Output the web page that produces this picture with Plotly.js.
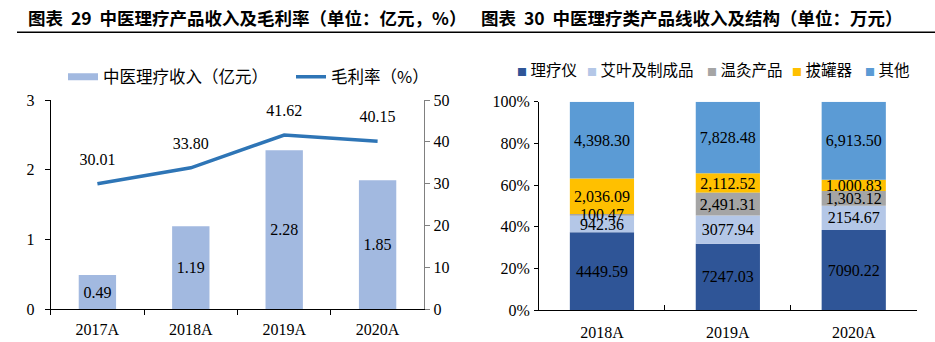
<!DOCTYPE html>
<html><head><meta charset="utf-8">
<script src="https://cdn.plot.ly/plotly-3.0.1.min.js"></script>
<style>html,body{margin:0;padding:0;background:#fff;} #chart{width:935px;height:342px;}</style>
</head><body><div id="chart"></div>
<script>
// ---- data ----
const years1 = ['2017A', '2018A', '2019A', '2020A'];
const revenue = [0.49, 1.19, 2.28, 1.85];          // 中医理疗收入（亿元）
const grossMargin = [30.01, 33.80, 41.62, 40.15];  // 毛利率（%）

const years2 = ['2018A', '2019A', '2020A'];
const device = [4449.59, 7247.03, 7090.22];        // 理疗仪
const moxa = [942.36, 3077.94, 2154.67];           // 艾叶及制成品
const moxibustion = [100.47, 2491.31, 1303.12];    // 温灸产品
const cupping = [2036.09, 2112.52, 1000.83];       // 拔罐器
const other = [4398.30, 7828.48, 6913.50];         // 其他

const seriesNames = ['理疗仪', '艾叶及制成品', '温灸产品', '拔罐器', '其他'];
const seriesValues = [device, moxa, moxibustion, cupping, other];
const seriesColors = ['#2F5597', '#B4C7E7', '#A5A5A5', '#FFC000', '#5B9BD5'];
const seriesFormats = ['.2f', '.2f', ',.2f', ',.2f', ',.2f'];
const drawOrder = [0, 1, 3, 4, 2];   // 温灸产品 labels drawn on top

// ---- helpers ----
const W = 935, H = 342;
const px = x => x / W;
const py = y => 1 - y / H;
const serif = 'Liberation Serif, Times New Roman, serif';
const cjk = 'Noto Sans CJK SC, sans-serif';

const totals = years2.map((_, i) => seriesValues.reduce((s, arr) => s + arr[i], 0));
const shares = seriesValues.map(arr => arr.map((v, i) => v / totals[i] * 100));
const bases = shares.map((_, k) => years2.map((__, i) => shares.slice(0, k).reduce((s, a) => s + a[i], 0)));

const traces = [];
traces.push({
  type: 'bar', x: years1, y: revenue, xaxis: 'x', yaxis: 'y',
  width: 0.4, marker: {color: '#A2B9E0'},
  texttemplate: '%{y:.2f}', textposition: 'inside', insidetextanchor: 'middle',
  textangle: 0, constraintext: 'none',
  textfont: {family: serif, size: 16, color: '#000'},
  showlegend: false, hoverinfo: 'skip'
});
traces.push({
  type: 'scatter', x: years1, y: grossMargin, xaxis: 'x', yaxis: 'y2',
  mode: 'lines+markers+text', line: {color: '#2E75B6', width: 3.5},
  marker: {size: 22, opacity: 0, color: '#2E75B6'},
  texttemplate: '%{y:.2f}', textposition: 'top center',
  textfont: {family: serif, size: 16, color: '#000'},
  cliponaxis: false, showlegend: false, hoverinfo: 'skip'
});
// legend entries for left chart
traces.push({type: 'scatter', x: [null], y: [null], xaxis: 'x', yaxis: 'y', mode: 'lines',
  line: {color: '#A2B9E0', width: 7}, name: '中医理疗收入（亿元）', legend: 'legend', hoverinfo: 'skip'});
traces.push({type: 'scatter', x: [null], y: [null], xaxis: 'x', yaxis: 'y', mode: 'lines',
  line: {color: '#2E75B6', width: 3.5}, name: '毛利率（%）', legend: 'legend2', hoverinfo: 'skip'});

drawOrder.forEach(k => {
  traces.push({
    type: 'bar', x: years2, y: shares[k], base: bases[k],
    customdata: seriesValues[k], xaxis: 'x3', yaxis: 'y3', name: seriesNames[k],
    width: 0.51, marker: {color: seriesColors[k]},
    texttemplate: '%{customdata:' + seriesFormats[k] + '}',
    textposition: 'inside', insidetextanchor: 'middle', textangle: 0, constraintext: 'none',
    textfont: {family: serif, size: 16, color: '#000'},
    showlegend: false, hoverinfo: 'skip'
  });
});

const axisFont = {family: serif, size: 16, color: '#000'};
const titleFont = {family: cjk, size: 17.5, color: '#000', weight: 'bold'};
const annotations = [
  {xref: 'paper', yref: 'paper', x: px(26), y: py(18), xanchor: 'left', yanchor: 'middle', showarrow: false,
   text: '图表  29  中医理疗产品收入及毛利率（单位：亿元，%）', font: titleFont},
  {xref: 'paper', yref: 'paper', x: px(479), y: py(18), xanchor: 'left', yanchor: 'middle', showarrow: false,
   text: '图表  30  中医理疗类产品线收入及结构（单位：万元）', font: titleFont}
];
const legendX = [515, 585, 705, 790, 863];
seriesNames.forEach((name, k) => {
  annotations.push({xref: 'paper', yref: 'paper', x: px(legendX[k]), y: py(69), xanchor: 'left', yanchor: 'middle',
    showarrow: false, font: {family: cjk, size: 15.5, color: '#000'},
    text: '<span style="color:' + seriesColors[k] + ';font-size:10px">■</span> ' + name});
});

const layout = {
  width: W, height: H, margin: {l: 0, r: 0, t: 0, b: 0},
  paper_bgcolor: '#fff', plot_bgcolor: '#fff',
  barmode: 'overlay',
  font: {family: serif, size: 16, color: '#000'},
  xaxis: {domain: [px(50.7), px(424.3)], anchor: 'y', type: 'category', showline: true, linecolor: '#000', linewidth: 1,
    ticks: 'outside', ticklen: 5, tickcolor: '#000', tickson: 'boundaries', tickfont: axisFont, ticklabelstandoff: 5,
    showgrid: false, zeroline: false},
  yaxis: {domain: [py(309.3), py(100)], anchor: 'x', range: [0, 3], dtick: 1, showline: true, linecolor: '#000',
    ticks: 'outside', ticklen: 5, tickcolor: '#000', ticklabelstandoff: 7, tickfont: axisFont,
    showgrid: false, zeroline: false},
  yaxis2: {overlaying: 'y', side: 'right', anchor: 'x', range: [0, 50], dtick: 10, showline: true, linecolor: '#808080',
    ticks: 'outside', ticklen: 5, tickcolor: '#808080', tickfont: axisFont, showgrid: false, zeroline: false},
  xaxis3: {domain: [px(539), px(916.7)], anchor: 'y3', type: 'category', showline: true, linecolor: '#000',
    ticks: 'inside', ticklen: 5, tickcolor: '#000', tickson: 'boundaries', tickfont: axisFont, ticklabelstandoff: 8,
    showgrid: false, zeroline: false},
  yaxis3: {domain: [py(310), py(101.7)], anchor: 'x3', range: [0, 100], dtick: 20, ticksuffix: '%', showline: true,
    linecolor: '#000', ticks: 'outside', ticklen: 4, tickcolor: '#000', ticklabelstandoff: 1, tickfont: axisFont,
    showgrid: false, zeroline: false},
  legend: {x: px(63), y: py(77), xanchor: 'left', yanchor: 'middle', orientation: 'h',
    font: {family: cjk, size: 16.5, color: '#000'}, bgcolor: 'rgba(0,0,0,0)'},
  legend2: {x: px(291), y: py(77), xanchor: 'left', yanchor: 'middle', orientation: 'h',
    font: {family: cjk, size: 16.5, color: '#000'}, bgcolor: 'rgba(0,0,0,0)'},
  shapes: [{type: 'line', xref: 'paper', yref: 'paper', x0: px(17), x1: 1, y0: py(32.3), y1: py(32.3),
    line: {color: '#000', width: 1.5}}],
  annotations: annotations
};

Plotly.newPlot('chart', traces, layout, {displayModeBar: false, staticPlot: true});
</script>
</body></html>
